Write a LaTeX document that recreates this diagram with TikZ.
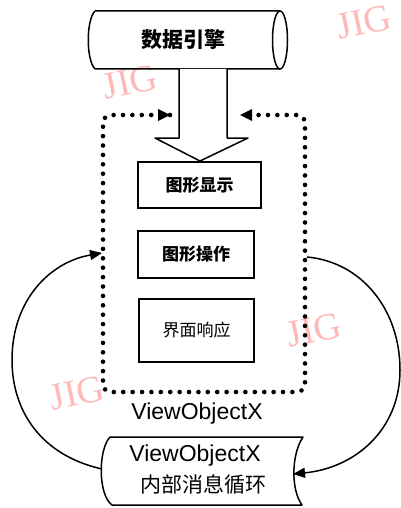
\documentclass[tikz,border=0pt]{standalone}
\usepackage{fontspec}
\setmainfont{Liberation Sans}
\newfontfamily\cjk{Noto Sans CJK SC}
\newfontfamily\wmfont{Liberation Serif}
\usetikzlibrary{arrows.meta}
\definecolor{wmpink}{RGB}{255,185,185}
\tikzset{
  solidline/.style={line width=1.5pt, line join=round},
  dotline/.style={line width=4.6pt, line cap=round, dash pattern=on 0pt off 9.4pt},
  modbox/.style={draw, line width=1.6pt, minimum width=#1, inner sep=0pt},
  wmark/.style={text=wmpink, font=\wmfont\fontsize{38}{38}\selectfont, rotate=12, inner sep=0pt},
}
\begin{document}
\begin{tikzpicture}[x=1pt,y=-1pt]
\useasboundingbox (0,0) rectangle (401,508);
% watermarks
\node[wmark] (wm1) at (364,22) {JIG};
\node[wmark] (wm2) at (130,82) {JIG};
\node[wmark] (wm3) at (314,330) {JIG};
\node[wmark] (wm4) at (77,393) {JIG};

% top cylinder: data engine
\draw[solidline] (95,11) -- (280,11) (95,69) -- (280,69)
  (95,11) .. controls (86,20) and (86,60) .. (95,69);
\draw[solidline] (280,40) ellipse [x radius=7.5, y radius=29];
\node[font=\cjk\bfseries\fontsize{21}{21}\selectfont] (engine) at (183,40) {数据引擎};

% block arrow
\draw[solidline, fill=white] (179,69) -- (179,138) -- (155,138) -- (200,161)
  -- (248,138) -- (227,138) -- (227,69);

% inner module boxes
\node[modbox=123pt, minimum height=46pt, font=\cjk\bfseries\fontsize{17}{17}\selectfont] (disp) at (199.5,185) {图形显示};
\node[modbox=116pt, minimum height=47pt, font=\cjk\bfseries\fontsize{17}{17}\selectfont] (oper) at (196,254.5) {图形操作};
\node[modbox=115pt, minimum height=63pt, font=\cjk\fontsize{17}{17}\selectfont] (resp) at (196.5,330.5) {界面响应};

% dotted container
\coordinate (tl) at (170,115);
\coordinate (tr) at (240,115);
\draw[dotline, rounded corners=8pt] (tl) -- (103,115) -- (103,392) -- (305,392) -- (305,115) -- (tr);
\fill (tl) -- ++(-12,-6) -- ++(0,12) -- cycle;
\fill (tr) -- ++(12,-6) -- ++(0,12) -- cycle;

\node[font=\fontsize{23}{23}\selectfont] (vox) at (197,414) {ViewObjectX};

% bottom shape: message loop
\draw[solidline] (110,437) -- (303,437) .. controls (291,455) and (291,490) .. (302,505)
  -- (112,505) .. controls (98,495) and (98,450) .. (110,437) -- cycle;
\node[font=\fontsize{23}{23}\selectfont] (loop1) at (195,456) {ViewObjectX};
\node[font=\cjk\fontsize{21}{21}\selectfont] (loop2) at (203,484) {内部消息循环};

% loop connectors
\coordinate (lstart) at (102,469);
\coordinate (lend) at (102,253);
\coordinate (rstart) at (307,257);
\coordinate (rend) at (293,474);
\draw[solidline, -{Triangle[length=12pt,width=10pt]}] (lstart) .. controls (40,455) and (12,410) .. (12,360)
  .. controls (12,300) and (50,262) .. (lend);
\draw[solidline, -{Triangle[length=12pt,width=10pt]}] (rstart) .. controls (362,262) and (400,310) .. (400,370)
  .. controls (400,430) and (355,468) .. (rend);
\end{tikzpicture}
\end{document}
